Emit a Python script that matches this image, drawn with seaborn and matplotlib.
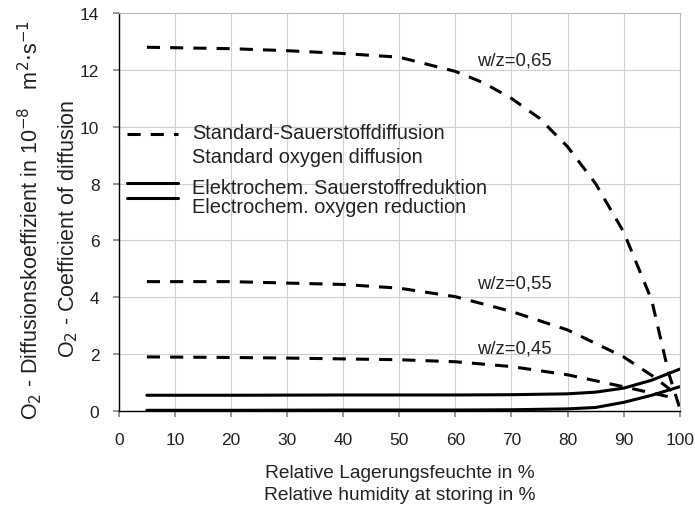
import numpy as np
import pandas as pd
import matplotlib
matplotlib.use("Agg")
import matplotlib.pyplot as plt
import seaborn as sns
from matplotlib.lines import Line2D
from matplotlib.legend_handler import HandlerBase

sns.set_theme(style="whitegrid")
plt.rcParams['font.family'] = ['Liberation Sans', 'DejaVu Sans']

# Data
rh_065 = [5, 20, 30, 40, 50, 60, 65, 70, 75, 80, 85, 90, 95, 98, 100]
d_065 = [12.8, 12.75, 12.68, 12.58, 12.45, 11.95, 11.55, 11.0, 10.3, 9.3, 8.0, 6.3, 3.9, 1.35, 0.1]
rh_055 = [5, 20, 30, 40, 50, 60, 70, 80, 90, 95, 99]
d_055 = [4.55, 4.55, 4.5, 4.45, 4.32, 4.02, 3.5, 2.85, 1.9, 1.25, 0.65]
rh_045 = [5, 20, 30, 40, 50, 60, 70, 80, 90, 95, 98]
d_045 = [1.9, 1.88, 1.86, 1.83, 1.8, 1.73, 1.56, 1.27, 0.85, 0.63, 0.5]
rh_el1 = [5, 20, 40, 60, 70, 80, 85, 90, 95, 100]
d_el1 = [0.55, 0.55, 0.56, 0.56, 0.57, 0.6, 0.66, 0.8, 1.08, 1.47]
rh_el2 = [5, 20, 40, 60, 70, 80, 85, 90, 95, 100]
d_el2 = [0.02, 0.02, 0.03, 0.03, 0.04, 0.07, 0.12, 0.3, 0.55, 0.85]

x_ticks = list(range(0, 101, 10))
y_ticks = list(range(0, 15, 2))

TXT = '#222222'
LW = 2.2
DASH = (0, (4.3, 3.3))

fig = plt.figure(figsize=(6.95, 5.06), dpi=100)
ax = fig.add_axes([0.171, 0.186, 0.807, 0.786])

for xs, ys in [(rh_065, d_065), (rh_055, d_055), (rh_045, d_045)]:
    sns.lineplot(x=xs, y=ys, ax=ax, color='black', lw=LW, linestyle=DASH, legend=False)
for xs, ys in [(rh_el1, d_el1), (rh_el2, d_el2)]:
    sns.lineplot(x=xs, y=ys, ax=ax, color='black', lw=LW, legend=False)

ax.set_xlim(0, 100)
ax.set_ylim(0, 14)
ax.set_xticks(x_ticks)
ax.set_yticks(y_ticks)
ax.grid(True, color='#d0d0d0', lw=0.8)
for s in ['left', 'bottom']:
    ax.spines[s].set_color('black')
    ax.spines[s].set_linewidth(1.0)
for s in ['top', 'right']:
    ax.spines[s].set_color('#bbbbbb')
    ax.spines[s].set_linewidth(0.8)
ax.tick_params(axis='both', labelsize=12.5, labelcolor=TXT, color='#888888',
               length=4, left=True, bottom=True)
ax.tick_params(axis='x', pad=11)
ax.tick_params(axis='y', pad=10)

for yv, lab in [(12.36, 'w/z=0,65'), (4.5, 'w/z=0,55'), (2.2, 'w/z=0,45')]:
    ax.text(63.8, yv, lab, fontsize=13.3, va='center', ha='left', color=TXT)


class OffsetLines(HandlerBase):
    def __init__(self, offsets, ls):
        super().__init__()
        self.offsets = offsets
        self.ls = ls

    def create_artists(self, legend, orig_handle, xdescent, ydescent,
                       width, height, fontsize, trans):
        arts = []
        for off in self.offsets:
            y = height / 2 - ydescent + off * fontsize
            ln = Line2D([-xdescent, -xdescent + width], [y, y], color='black',
                        lw=LW, linestyle=self.ls)
            ln.set_transform(trans)
            arts.append(ln)
        return arts


h_dash = Line2D([], [], color='black', lw=LW, linestyle=DASH)
h_solid = Line2D([], [], color='black', lw=LW)
labels = ['Standard-Sauerstoffdiffusion\nStandard oxygen diffusion',
          'Elektrochem. Sauerstoffreduktion\nElectrochem. oxygen reduction']
leg = ax.legend([h_dash, h_solid], labels, loc='upper left', bbox_to_anchor=(0.0, 0.743),
                frameon=False, fontsize=14.4, handlelength=2.55, handletextpad=0.7,
                labelspacing=0.6, borderaxespad=0.0, borderpad=0.4,
                handler_map={h_dash: OffsetLines([0.55], DASH),
                             h_solid: OffsetLines([0.7, -0.05], '-')})
texts = leg.get_texts()
texts[0].set_linespacing(1.3)
texts[1].set_linespacing(1.0)
for t in texts:
    t.set_color(TXT)

fig.text(0.043, 0.565, 'O$_2$ - Diffusionskoeffizient in 10$^{-8}$   m$^2$$\\cdot$s$^{-1}$',
         rotation=90, va='center', ha='center', fontsize=15.5, color=TXT)
fig.text(0.098, 0.547, 'O$_2$ - Coefficient of diffusion',
         rotation=90, va='center', ha='center', fontsize=15.5, color=TXT)
fig.text(0.575, 0.064, 'Relative Lagerungsfeuchte in %', ha='center', va='center',
         fontsize=13.8, color=TXT)
fig.text(0.575, 0.020, 'Relative humidity at storing in %', ha='center', va='center',
         fontsize=13.8, color=TXT)

fig.savefig('out.png', dpi=100)
